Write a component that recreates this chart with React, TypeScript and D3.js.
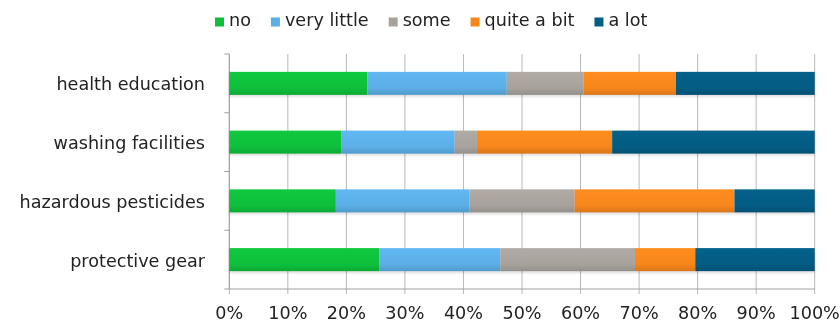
import React, { useEffect, useRef } from "react";
import * as d3 from "d3";

// Survey responses per topic, in percent of respondents
const categories = ["health education", "washing facilities", "hazardous pesticides", "protective gear"];
const seriesNames = ["no", "very little", "some", "quite a bit", "a lot"];
const noValues = [23.6, 19.1, 18.2, 25.6];
const veryLittleValues = [23.8, 19.4, 22.8, 20.7];
const someValues = [13.1, 3.8, 18.0, 23.0];
const quiteABitValues = [15.8, 23.1, 27.3, 10.3];
const aLotValues = [23.7, 34.6, 13.7, 20.4];
const xTicks = [0, 10, 20, 30, 40, 50, 60, 70, 80, 90, 100];

const seriesColors = ["#0ebf3b", "#5caee6", "#a7a29c", "#f7861c", "#035c83"];

const WIDTH = 840;
const HEIGHT = 322;
const FONT = "'DejaVu Sans', Verdana, sans-serif";
const FONT_SIZE = 17.6;

export default function App() {
  const ref = useRef<SVGSVGElement | null>(null);

  useEffect(() => {
    const svg = d3.select(ref.current);
    svg.selectAll("*").remove();

    const seriesValues = [noValues, veryLittleValues, someValues, quiteABitValues, aLotValues];
    const rows = categories.map((c, i) => {
      const row: Record<string, any> = { category: c };
      seriesNames.forEach((s, j) => (row[s] = seriesValues[j][i]));
      return row;
    });
    const stacked = d3.stack<any>().keys(seriesNames)(rows);

    const left = 229.3;
    const right = 814.7;
    const top = 54;
    const bottom = 289;

    const x = d3.scaleLinear().domain([0, 100]).range([left, right]);
    const y = d3
      .scaleBand<string>()
      .domain(categories)
      .range([top, bottom])
      .paddingInner(0.608)
      .paddingOuter(0.304);

    const defs = svg.append("defs");
    seriesColors.forEach((c, i) => {
      const g = defs
        .append("linearGradient")
        .attr("id", `grad${i}`)
        .attr("x1", 0)
        .attr("y1", 0)
        .attr("x2", 0)
        .attr("y2", 1);
      const base = d3.color(c)!;
      g.append("stop").attr("offset", "0%").attr("stop-color", base.brighter(0.15).formatHex());
      g.append("stop").attr("offset", "70%").attr("stop-color", c);
      g.append("stop").attr("offset", "100%").attr("stop-color", base.darker(0.35).formatHex());
    });
    defs
      .append("filter")
      .attr("id", "shadow")
      .attr("x", "-5%")
      .attr("y", "-50%")
      .attr("width", "110%")
      .attr("height", "200%")
      .append("feGaussianBlur")
      .attr("stdDeviation", 1.2);

    svg.append("rect").attr("width", WIDTH).attr("height", HEIGHT).attr("fill", "#ffffff");

    // vertical gridlines with small ticks below the axis
    svg
      .append("g")
      .selectAll("line")
      .data(xTicks)
      .join("line")
      .attr("x1", (d) => x(d))
      .attr("x2", (d) => x(d))
      .attr("y1", top)
      .attr("y2", bottom + 5)
      .attr("stroke", "#b8b8b8")
      .attr("stroke-width", 1);

    // x axis line
    svg
      .append("line")
      .attr("x1", left)
      .attr("x2", right)
      .attr("y1", bottom)
      .attr("y2", bottom)
      .attr("stroke", "#a0a0a0");

    // y axis line and category boundary ticks
    svg
      .append("line")
      .attr("x1", left)
      .attr("x2", left)
      .attr("y1", top)
      .attr("y2", bottom)
      .attr("stroke", "#a0a0a0");
    const step = y.step();
    svg
      .append("g")
      .selectAll("line")
      .data(d3.range(categories.length + 1))
      .join("line")
      .attr("x1", left - 5)
      .attr("x2", left)
      .attr("y1", (i) => top + i * step)
      .attr("y2", (i) => top + i * step)
      .attr("stroke", "#a0a0a0");

    // bar shadows
    const shadowG = svg.append("g").attr("filter", "url(#shadow)");
    shadowG
      .selectAll("rect")
      .data(categories)
      .join("rect")
      .attr("x", x(0))
      .attr("y", (d) => y(d)! + 2)
      .attr("width", x(100) - x(0))
      .attr("height", y.bandwidth())
      .attr("fill", "#000")
      .attr("opacity", 0.12);

    // stacked bars
    svg
      .append("g")
      .selectAll("g")
      .data(stacked)
      .join("g")
      .attr("fill", (_, i) => `url(#grad${i})`)
      .selectAll("rect")
      .data((s) => s)
      .join("rect")
      .attr("x", (d) => x(d[0]))
      .attr("y", (d) => y(d.data.category)!)
      .attr("width", (d) => x(d[1]) - x(d[0]))
      .attr("height", y.bandwidth());

    // category labels
    svg
      .append("g")
      .selectAll("text")
      .data(categories)
      .join("text")
      .attr("x", 205)
      .attr("y", (d) => y(d)! + y.bandwidth() / 2 + 7)
      .attr("text-anchor", "end")
      .attr("font-family", FONT)
      .attr("font-size", FONT_SIZE)
      .attr("fill", "#222")
      .text((d) => d);

    // x tick labels
    svg
      .append("g")
      .selectAll("text")
      .data(xTicks)
      .join("text")
      .attr("x", (d) => x(d))
      .attr("y", 319)
      .attr("text-anchor", "middle")
      .attr("font-family", FONT)
      .attr("font-size", FONT_SIZE)
      .attr("fill", "#222")
      .text((d) => `${d}%`);

    // legend laid out left to right
    const legend = svg.append("g");
    let lx = 215;
    seriesNames.forEach((name, i) => {
      legend
        .append("rect")
        .attr("x", lx)
        .attr("y", 17.5)
        .attr("width", 9)
        .attr("height", 9)
        .attr("fill", seriesColors[i]);
      const t = legend
        .append("text")
        .attr("x", lx + 14)
        .attr("y", 26)
        .attr("font-family", FONT)
        .attr("font-size", FONT_SIZE)
        .attr("fill", "#222")
        .text(name);
      const w = (t.node() as SVGTextElement).getComputedTextLength();
      lx += 14 + w + 20;
    });
  }, []);

  return (
    <svg
      ref={ref}
      width={WIDTH}
      height={HEIGHT}
      style={{ position: "absolute", left: 0, top: 0, display: "block" }}
    />
  );
}
